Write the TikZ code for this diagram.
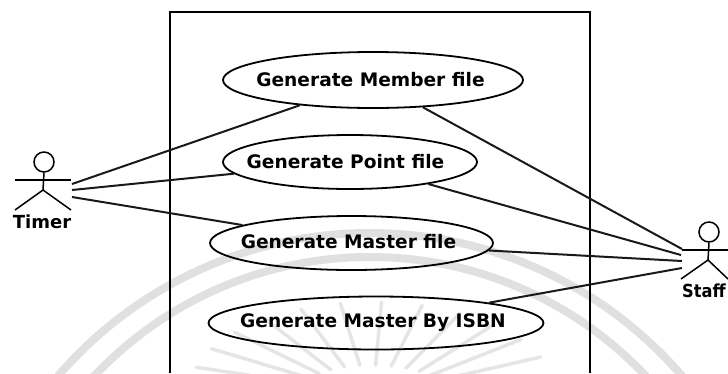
\documentclass[tikz,border=0pt]{standalone}
\usepackage{fontspec}
\setmainfont{DejaVu Sans}
\usetikzlibrary{shapes.geometric}
\newcommand{\casetext}[3]{\makebox[0pt]{\hspace*{#1}\raisebox{#2}{#3}}}
\tikzset{
  usecase/.style={ellipse,draw,line width=1.8pt,inner sep=0pt,font=\bfseries\fontsize{18.6}{20}\selectfont},
  link/.style={line width=2pt,black!90},
  actorline/.style={line width=1.5pt},
  actorname/.style={inner sep=0pt,font=\bfseries\fontsize{18}{20}\selectfont},
  seal/.style={black!12,line width=8pt},
  sealray/.style={black!10,line width=3.5pt,line cap=round}
}
\begin{document}
\begin{tikzpicture}[x=1pt,y=-1pt]
\useasboundingbox (0,0) rectangle (728,373);
% faint watermark behind the diagram
\begin{scope}
\clip (0,0) rectangle (728,373);
\draw[seal] (370,645) circle[radius=412pt];
\draw[seal] (370,636) circle[radius=379pt];
\foreach \a in {9,22,35,48,61,74,87,100,113,126,139,152,165,172}
  \draw[sealray] ({372+70*cos(\a)},{390-25*sin(\a)}) -- ({372+182*cos(\a)},{390-88*sin(\a)});
\end{scope}
\draw[line width=1.4pt] (170,373) -- (170,12) -- (590,12) -- (590,373);
\coordinate (t1) at (72,184);
\coordinate (t2) at (72,190);
\coordinate (t3) at (72,197);
\coordinate (s1) at (682,249);
\coordinate (s2) at (681,255);
\coordinate (s3) at (682,261);
\coordinate (s4) at (682,268);
\node[usecase,minimum width=300pt,minimum height=56pt] (m) at (373,80) {\casetext{-5pt}{2pt}{Generate Member file}};
\node[usecase,minimum width=254pt,minimum height=54pt] (p) at (350,162) {\casetext{-9pt}{0pt}{Generate Point file}};
\node[usecase,minimum width=283pt,minimum height=54pt] (ma) at (351.5,243) {\casetext{-6pt}{3pt}{Generate Master file}};
\node[usecase,minimum width=335pt,minimum height=53pt] (i) at (376,323) {\casetext{-6pt}{1pt}{Generate Master By ISBN}};
\draw[link] (t1) -- (m);
\draw[link] (t2) -- (p);
\draw[link] (t3) -- (ma);
\draw[link] (m) -- (s1);
\draw[link] (p) -- (s2);
\draw[link] (ma) -- (s3);
\draw[link] (i) -- (s4);
% Timer actor
\node[circle,draw,actorline,minimum size=20pt,inner sep=0pt] (th) at (44,162) {};
\coordinate (thip) at (43,190);
\draw[actorline] (th.south) -- (thip);
\draw[actorline] (15,180) -- (71,180);
\draw[actorline] (15,210) -- (thip) -- (71,210);
\node[actorname] (tn) at (42,222) {Timer};
% Staff actor
\node[circle,draw,actorline,minimum size=20pt,inner sep=0pt] (sh) at (709,232) {};
\coordinate (ship) at (708,260);
\draw[actorline] (sh.south) -- (ship);
\draw[actorline] (682,250) -- (728,250);
\draw[actorline] (681,279) -- (ship) -- (728,279);
\node[actorname,anchor=west,xscale=.9] (sn) at (682,291) {Staff};
\end{tikzpicture}
\end{document}
